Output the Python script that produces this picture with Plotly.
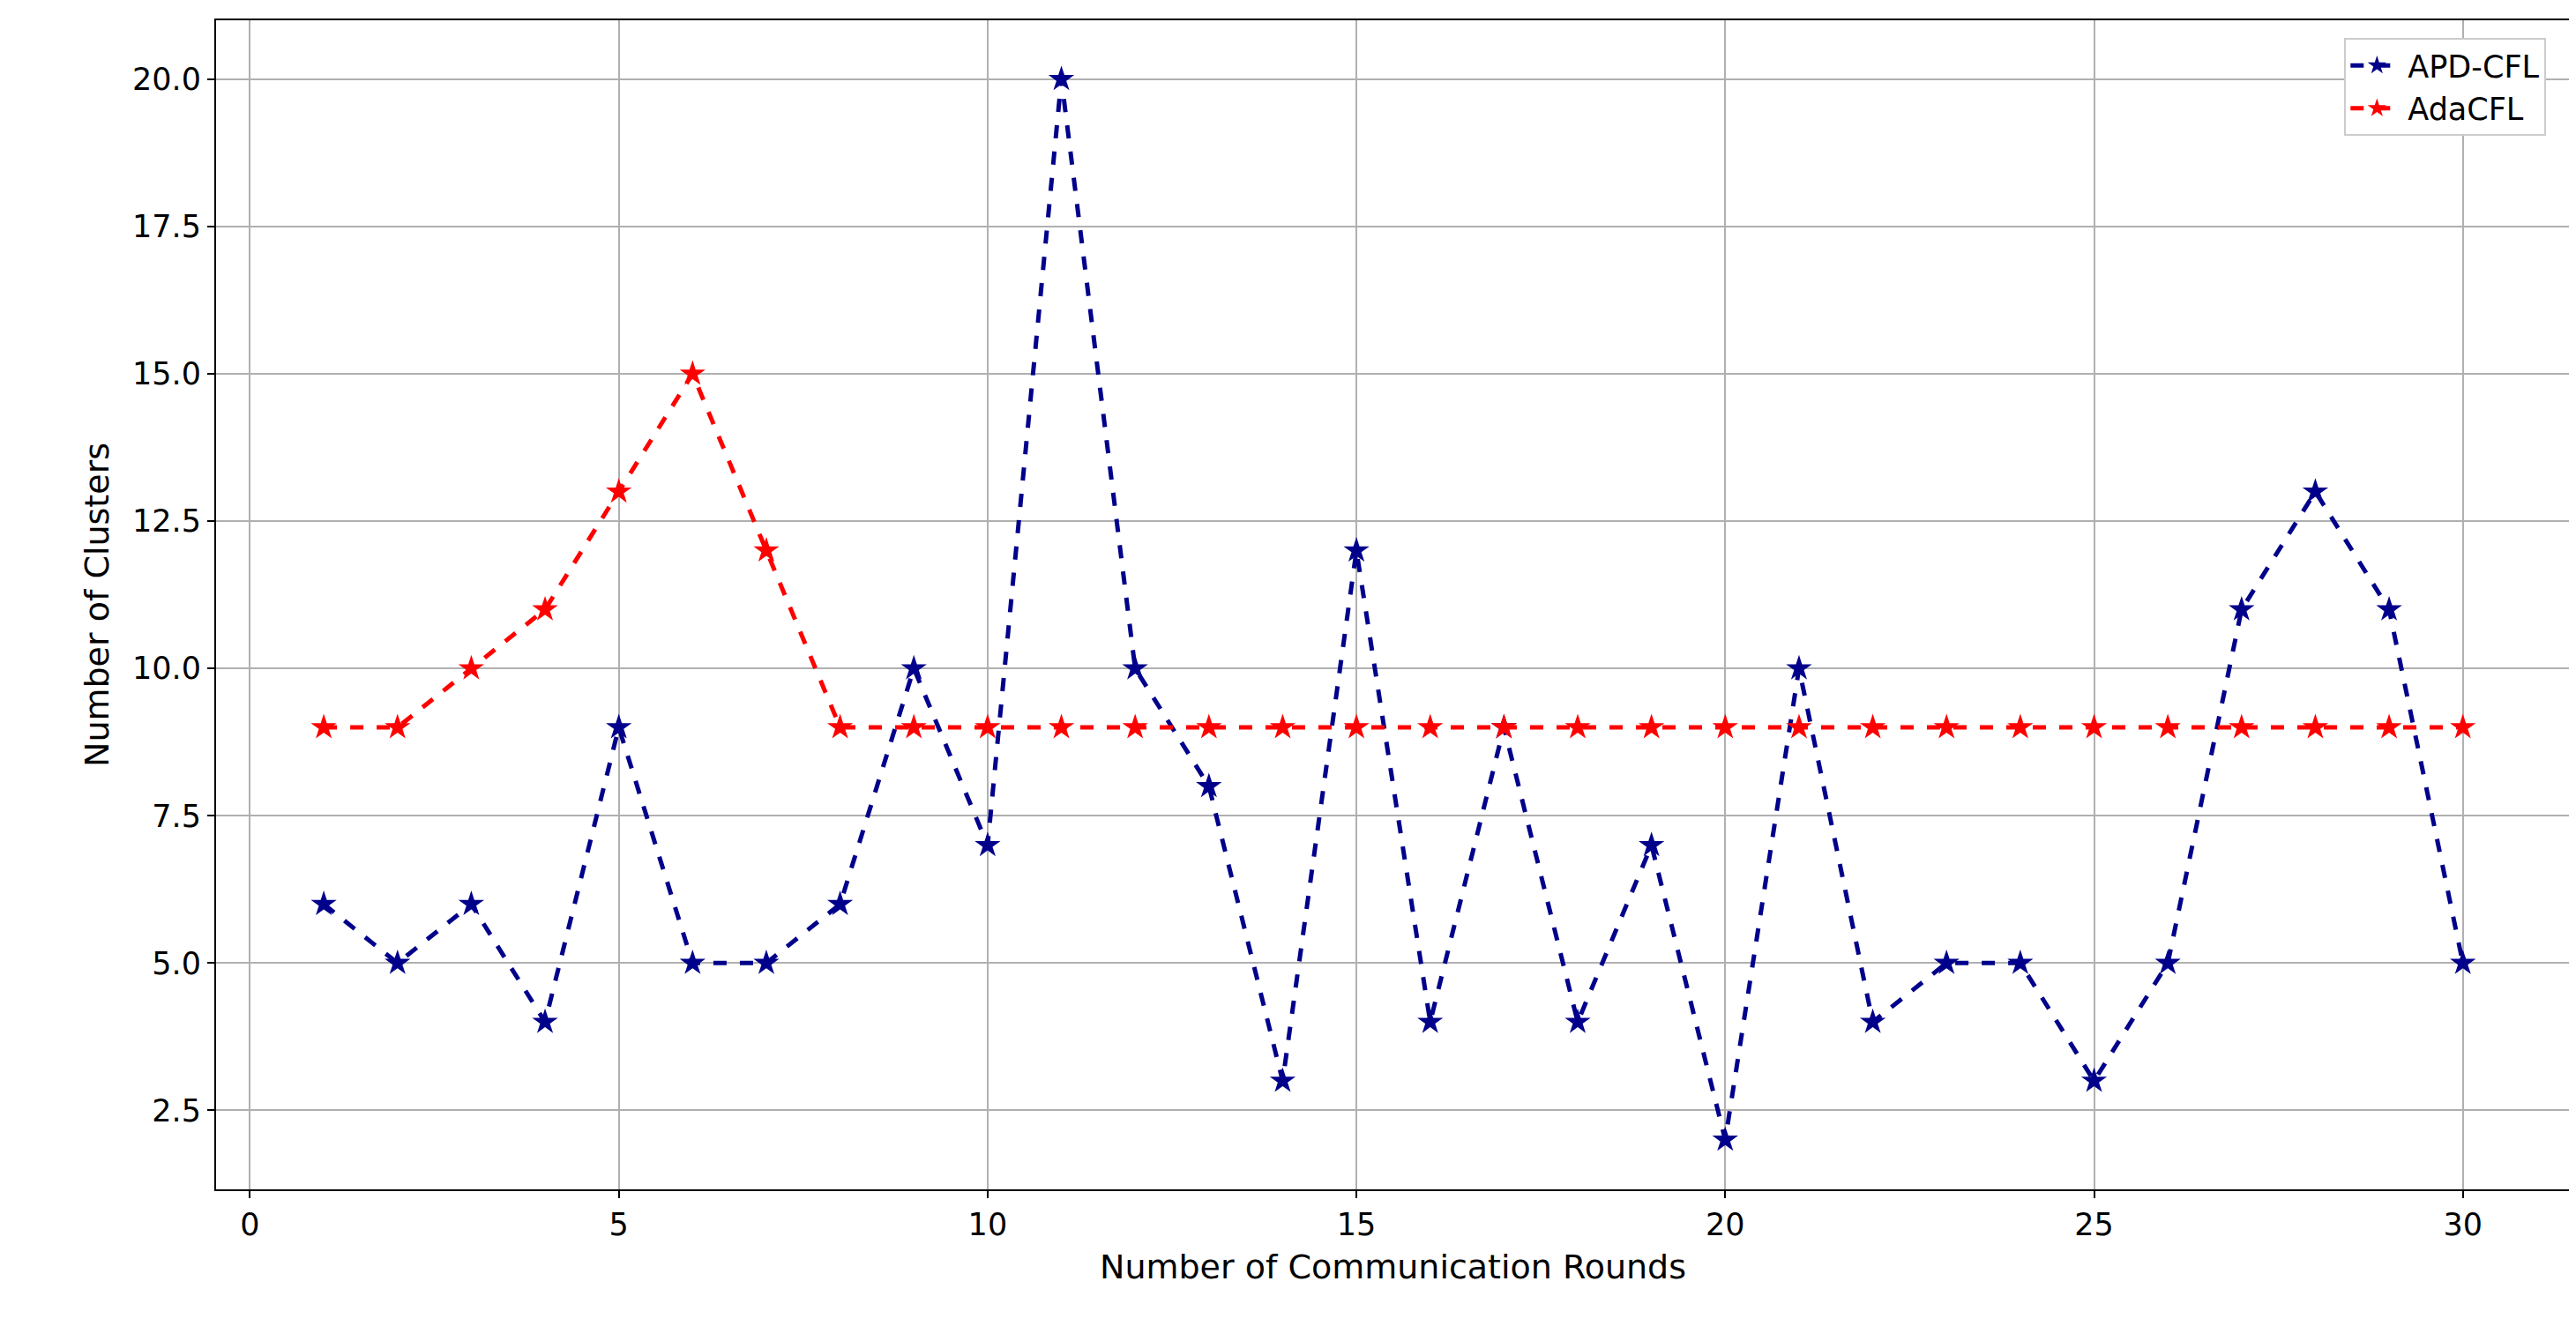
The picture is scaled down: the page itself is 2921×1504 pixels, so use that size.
import plotly.graph_objects as go

rounds = list(range(1, 31))
apd_cfl = [6,5,6,4,9,5,5,6,10,7,20,10,8,3,12,4,9,4,7,2,10,4,5,5,3,5,11,13,11,5]
ada_cfl = [9,9,10,11,13,15,12,9,9,9,9,9,9,9,9,9,9,9,9,9,9,9,9,9,9,9,9,9,9,9]

fig = go.Figure()
fig.add_trace(go.Scatter(x=rounds, y=apd_cfl, name="APD-CFL", mode="lines+markers",
    line=dict(color="#00008b", dash="dash", width=5),
    marker=dict(symbol="star", size=22, color="#00008b")))
fig.add_trace(go.Scatter(x=rounds, y=ada_cfl, name="AdaCFL", mode="lines+markers",
    line=dict(color="#ff0000", dash="dash", width=5),
    marker=dict(symbol="star", size=22, color="#ff0000")))

axis = dict(showline=True, linecolor="black", linewidth=2, mirror=True,
    showgrid=True, gridcolor="#b0b0b0", gridwidth=2, ticks="outside", ticklen=8,
    tickwidth=2, tickcolor="black", zeroline=False,
    tickfont=dict(family="DejaVu Sans", size=35, color="black"))
fig.update_layout(
    width=2921, height=1504, plot_bgcolor="white", paper_bgcolor="white",
    margin=dict(l=237, r=15, t=15, b=163),
    xaxis=dict(axis, range=[-0.46, 31.45], tickvals=[0,5,10,15,20,25,30],
        title=dict(text="Number of Communication Rounds", font=dict(family="DejaVu Sans", size=38, color="black"))),
    yaxis=dict(axis, range=[1.16, 21.0], tickvals=[2.5,5,7.5,10,12.5,15,17.5,20],
        tickformat=".1f",
        title=dict(text="Number of Clusters", font=dict(family="DejaVu Sans", size=38, color="black"))),
    legend=dict(x=0.99, y=0.985, xanchor="right", yanchor="top", bgcolor="white",
        bordercolor="#cccccc", borderwidth=2, itemwidth=60, tracegroupgap=10,
        font=dict(family="DejaVu Sans", size=35, color="black")),
)
fig.write_html("out.html")
